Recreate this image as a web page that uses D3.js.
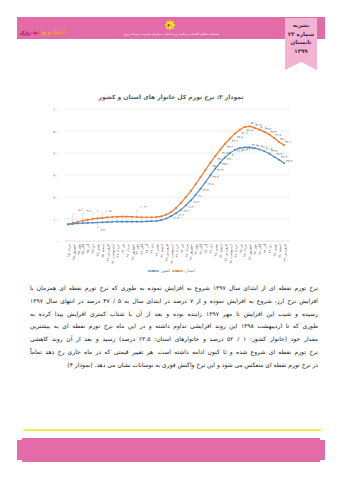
<!DOCTYPE html>
<html>
<head>
<meta charset="utf-8">
<script src="https://cdn.jsdelivr.net/npm/d3@7"></script>
<style>
  body { margin: 0; background: #fff; }
  svg { display: block; font-family: "DejaVu Sans", sans-serif; }
</style>
</head>
<body>
<svg id="page" width="342" height="480"></svg>
<script>
// month labels (Mordad 95 .. Farvardin 99)
let monthNames = ["فروردین", "اردیبهشت", "خرداد", "تیر", "مرداد", "شهریور", "مهر", "آبان", "آذر", "دی", "بهمن", "اسفند"];
let firstMonth = 4, firstYear = 95, monthCount = 45;

// inflation rate, province (orange) and country (blue)
let ostan = [7.6, 8.2, 8.7, 9.2, 9.6, 10.0, 10.3, 10.5, 10.7, 10.9, 11.0, 11.1, 11.1, 11.0, 10.9,
  10.8, 10.8, 10.8, 10.9, 11.2, 12.0, 13.2, 15.0, 17.3, 20.0, 22.7, 25.8, 29.0, 32.3, 35.6,
  38.6, 41.5, 44.2, 46.6, 48.8, 50.6, 51.8, 52.1, 51.4, 50.6, 49.6, 48.4, 46.8, 45.0, 43.6];
let keshvar = [7.6, 7.8, 8.0, 8.1, 8.2, 8.3, 8.4, 8.5, 8.6, 8.7, 8.8, 8.8, 8.8, 8.8, 8.8,
  8.8, 8.9, 9.0, 9.1, 9.5, 10.2, 11.3, 12.6, 14.2, 16.2, 18.4, 21.0, 23.8, 26.8, 29.9,
  32.9, 35.6, 38.0, 40.0, 41.4, 42.2, 42.6, 42.6, 42.2, 41.6, 40.8, 39.7, 38.3, 36.9, 35.4];

let yTicks = [0, 10, 20, 30, 40, 50, 60];

let paragraph = [
  "نرخ تورم نقطه ای از ابتدای سال ۱۳۹۷ شروع به افزایش نموده به طوری که نرخ تورم نقطه ای همزمان با",
  "افزایش نرخ ارز، شروع به افزایش نموده و از ۷ درصد در ابتدای سال به ۵ / ۴۷ درصد در انتهای سال ۱۳۹۷",
  "رسیده و شیب این افزایش تا مهر ۱۳۹۷ زاینده بوده و بعد از آن با شتاب کمتری افزایش پیدا کرده به",
  "طوری که تا اردیبهشت ۱۳۹۸ این روند افزایشی تداوم داشته و در این ماه نرخ تورم نقطه ای به بیشترین",
  "مقدار خود (خانوار کشور: ۱ / ۵۲ درصد و خانوارهای استان: ۶۳.۵ درصد) رسید و بعد از آن روند کاهشی",
  "نرخ تورم نقطه ای شروع شده و تا کنون ادامه داشته است. هر تغییر قیمتی که در ماه جاری رخ دهد تماماً",
  "در نرخ تورم نقطه ای منعکس می شود و این نرخ واکنش فوری به نوسانات نشان می دهد. (نمودار ۴)"
];

let faDigits = "۰۱۲۳۴۵۶۷۸۹";
let fa = s => String(s).replace(/[0-9]/g, d => faDigits[d]);

let labels = d3.range(monthCount).map(i => {
  let m = (firstMonth + i) % 12;
  let yr = firstYear + Math.floor((firstMonth + i) / 12);
  return monthNames[m] + " " + fa(yr);
});

let svg = d3.select("#page");
svg.append("rect").attr("width", 342).attr("height", 480).attr("fill", "#fff");

// ---------- page header ----------
svg.append("rect")
  .attr("x", 17).attr("y", 17).attr("width", 308).attr("height", 22)
  .attr("fill", "#e36ba8");

svg.append("polygon")
  .attr("points", "285,18 317,18 317,70 301,62 285,70")
  .attr("fill", "#f3b3d2");

let ribbon = ["نشریه", "شماره ۲۳", "تابستان", "۱۳۹۹"];
svg.selectAll(".rib")
  .data(ribbon)
  .join("text")
  .attr("x", 301)
  .attr("y", (d, i) => 27 + i * 8.5)
  .attr("text-anchor", "middle")
  .style("font-size", "5.5px")
  .style("font-weight", "bold")
  .style("fill", "#4a2040")
  .text(d => d);

let star = d3.range(16).map(i => {
  let r = i % 2 ? 3.6 : 5.6;
  let a = i * Math.PI / 8;
  return [170 + r * Math.sin(a), 25 - r * Math.cos(a)];
});
svg.append("polygon").attr("points", star.join(" ")).attr("fill", "#f6e21a");
svg.append("text")
  .attr("x", 170).attr("y", 26.8)
  .attr("text-anchor", "middle")
  .style("font-size", "4.5px").style("font-weight", "bold").style("fill", "#7a2a5a")
  .text("۴۰");

svg.append("text")
  .attr("x", 171).attr("y", 35)
  .attr("text-anchor", "middle")
  .attr("direction", "rtl")
  .style("font-size", "3px").style("fill", "#fff")
  .text("فصلنامه تحلیلی اقتصاد و برنامه ریزی استان - سازمان مدیریت و برنامه ریزی");

// logo text with a colour gradient
let grad = svg.append("defs").append("linearGradient")
  .attr("id", "logoGrad")
  .attr("gradientUnits", "userSpaceOnUse")
  .attr("x1", 20).attr("x2", 66).attr("y1", 0).attr("y2", 0);
[["0", "#9b1a6a"], ["0.35", "#c2186f"], ["0.5", "#f6c21a"], ["1", "#f08a1c"]].forEach(s =>
  grad.append("stop").attr("offset", s[0]).attr("stop-color", s[1]));

svg.append("text")
  .attr("x", 66).attr("y", 34)
  .attr("direction", "rtl")
  .attr("text-anchor", "start")
  .attr("textLength", 46)
  .attr("lengthAdjust", "spacingAndGlyphs")
  .attr("fill", "url(#logoGrad)")
  .style("font-size", "7px").style("font-weight", "bold").style("font-style", "italic")
  .text("اقتصاد و برنامه ریزی");

// ---------- chart ----------
let x = d3.scalePoint()
  .domain(labels)
  .range([68, 284]);

let y = d3.scaleLinear()
  .domain([0, 60])
  .range([241, 109]);

svg.append("text")
  .attr("x", 171).attr("y", 99)
  .attr("text-anchor", "middle")
  .attr("direction", "rtl")
  .style("font-size", "6px")
  .style("font-weight", "bold")
  .style("fill", "#595959")
  .text("نمودار ۳: نرخ تورم کل خانوار های استان و کشور");

// horizontal grid lines
svg.selectAll(".yGrid")
  .data(yTicks)
  .join("line")
  .attr("x1", 65).attr("x2", 290)
  .attr("y1", d => y(d)).attr("y2", d => y(d))
  .attr("stroke", d => d === 0 ? "#cfcfcf" : "#e2e2e2")
  .attr("stroke-width", 0.6);

svg.append("g")
  .attr("transform", "translate(63,0)")
  .style("font-size", "4px")
  .call(d3.axisLeft(y).tickValues(yTicks).tickSize(0).tickPadding(2)
    .tickFormat(d => fa(d3.format(".1f")(d))))
  .call(g => g.select(".domain").remove())
  .selectAll(".tick text")
  .style("fill", "#777")
  .style("font-family", "DejaVu Sans");

// x axis, rotated month labels
svg.append("g")
  .attr("transform", "translate(0,241)")
  .style("font-size", "3.6px")
  .call(d3.axisBottom(x).tickSize(0))
  .call(g => g.select(".domain").remove())
  .selectAll(".tick text")
  .attr("transform", "rotate(-90)")
  .attr("text-anchor", "end")
  .attr("x", -3).attr("y", 0).attr("dy", "0.35em")
  .style("fill", "#666")
  .style("font-family", "DejaVu Sans");

let series = [
  { name: "استان", values: ostan, color: "#ed7d31" },
  { name: "کشور", values: keshvar, color: "#4f8fcc" }
];

let line = d3.line()
  .x((d, i) => x(labels[i]))
  .y(d => y(d))
  .curve(d3.curveMonotoneX);

series.forEach(s => {
  svg.append("path")
    .datum(s.values)
    .attr("fill", "none")
    .attr("stroke", s.color)
    .attr("stroke-width", 1.2)
    .attr("d", line);

  svg.selectAll(null)
    .data(s.values)
    .join("circle")
    .attr("cx", (d, i) => x(labels[i]))
    .attr("cy", d => y(d))
    .attr("r", 1.1)
    .attr("fill", s.color);
});

// value labels along the rising and falling parts
let fmt = d => fa(d3.format(".1f")(d));
svg.selectAll(null)
  .data(ostan.map((v, i) => ({ v, i })).filter(d => d.i >= 29))
  .join("text")
  .attr("x", d => x(labels[d.i]) + (d.i <= 36 ? 2 : 1))
  .attr("y", d => y(d.v) + (d.i <= 36 ? 4 : -2))
  .style("font-size", "3.2px")
  .style("fill", "#555")
  .text(d => fmt(d.v));

svg.selectAll(null)
  .data(keshvar.map((v, i) => ({ v, i })).filter(d => d.i >= 21))
  .join("text")
  .attr("x", d => x(labels[d.i]) + 2)
  .attr("y", d => y(d.v) + (d.i <= 36 ? 2.5 : -1.5))
  .style("font-size", "3.2px")
  .style("fill", "#555")
  .text(d => fmt(d.v));

// callouts in the flat part
let callouts = [
  { s: ostan, i: 1, dx: 2, dy: -13 },
  { s: ostan, i: 3, dx: 1, dy: -10 },
  { s: ostan, i: 5, dx: 1, dy: -8 },
  { s: ostan, i: 7, dx: 0, dy: -7 },
  { s: ostan, i: 14, dx: 0, dy: -10 },
  { s: keshvar, i: 6, dx: 0, dy: 7 }
];
callouts.forEach(c => {
  let cx = x(labels[c.i]), cy = y(c.s[c.i]);
  svg.append("path")
    .attr("d", `M${cx},${cy} V${cy + c.dy * 0.7} H${cx + 3}`)
    .attr("fill", "none").attr("stroke", "#aaa").attr("stroke-width", 0.3);
  svg.append("text")
    .attr("x", cx + 3 + c.dx).attr("y", cy + c.dy + 1)
    .style("font-size", "3.2px").style("fill", "#555")
    .text(fmt(c.s[c.i]));
});

// legend
let legend = [
  { name: "کشور", color: "#4f8fcc", x: 148 },
  { name: "استان", color: "#ed7d31", x: 172 }
];
legend.forEach(l => {
  svg.append("line")
    .attr("x1", l.x).attr("x2", l.x + 11).attr("y1", 271).attr("y2", 271)
    .attr("stroke", l.color).attr("stroke-width", 1.2);
  svg.append("circle").attr("cx", l.x + 5.5).attr("cy", 271).attr("r", 1.1).attr("fill", l.color);
  svg.append("text")
    .attr("x", l.x + 13).attr("y", 272.4)
    .style("font-size", "4px").style("fill", "#777")
    .text(l.name);
});

// ---------- paragraph ----------
let lineWidth = 288;
paragraph.forEach((t, i) => {
  let txt = svg.append("text")
    .attr("x", 318).attr("y", 290 + i * 12.8)
    .attr("direction", "rtl")
    .attr("text-anchor", "start")
    .style("font-size", "6px")
    .style("fill", "#222")
    .text(t);
  let len = txt.node().getComputedTextLength();
  if (len > lineWidth) {
    txt.style("font-size", (6 * lineWidth / len) + "px");
  } else if (i < paragraph.length - 1) {
    let spaces = t.split(" ").length - 1;
    txt.attr("word-spacing", (lineWidth - len) / spaces);
  }
});

// ---------- footer ----------
svg.append("line")
  .attr("x1", 23).attr("x2", 321).attr("y1", 430).attr("y2", 430)
  .attr("stroke", "#f3e61a").attr("stroke-width", 1.6);

svg.append("path")
  .attr("d", "M22,438 H320 V440 H325 V460 H320 V462 H22 V460 H17 V440 H22 Z")
  .attr("fill", "#e36ba8");
</script>
</body>
</html>
